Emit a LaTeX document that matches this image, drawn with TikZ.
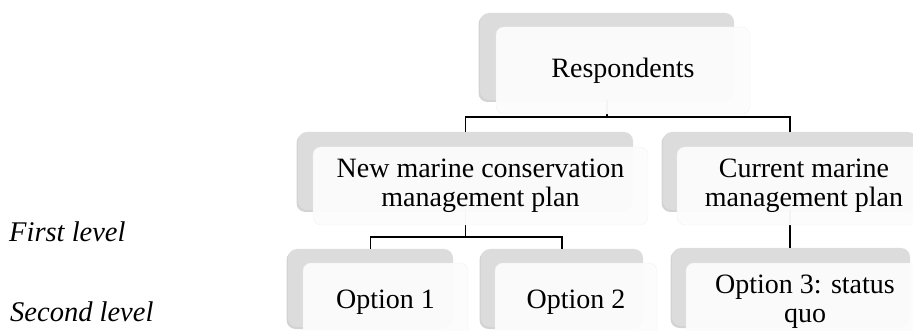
\documentclass[tikz,border=0pt]{standalone}
\usepackage{fontspec}
\setmainfont{Liberation Serif}
\usetikzlibrary{shadows}
\definecolor{backgrey}{HTML}{DCDCDC}
\definecolor{frontwhite}{HTML}{FCFCFC}
\tikzset{
  backbox/.style={rounded corners=9pt, fill=backgrey, inner sep=0pt,
    drop shadow={shadow xshift=-1.5pt, shadow yshift=-2pt, opacity=0.35}},
  frontbox/.style={rounded corners=8pt, fill=frontwhite, fill opacity=0.97,
    text opacity=1, draw=black!5, inner sep=0pt, align=center,
    font=\fontsize{28}{29}\selectfont},
  levellabel/.style={anchor=west, inner sep=0pt, font=\fontsize{28.5}{29}\selectfont\itshape},
  link/.style={line width=1.4pt}
}
\begin{document}
\begin{tikzpicture}[x=1pt, y=-1pt]
\useasboundingbox (0,0) rectangle (913,331);
\node[levellabel] (first) at (9,232){First level};
\node[levellabel] (second) at (10,312){Second level};
\coordinate (jtop) at (608,117);
\coordinate (jnew) at (465,237);
\node[backbox, minimum width=254pt, minimum height=87pt] (respb) at (607,56.5){};
\node[backbox, minimum width=335pt, minimum height=78pt] (newb) at (465.5,171){};
\node[backbox, minimum width=254pt, minimum height=78pt] (curb) at (790,171){};
\node[backbox, minimum width=165pt, minimum height=78pt] (opta) at (370.5,288){};
\node[backbox, minimum width=162pt, minimum height=78pt] (optb) at (562,288){};
\node[backbox, minimum width=238pt, minimum height=78pt] (optc) at (791,287){};
\draw[link](respb.south) -- (respb.south |- jtop) -| (newb.north);
\draw[link](respb.south |- jtop) -| (curb.north);
\draw[link](newb.south) -- (newb.south |- jnew) -| (opta.north);
\draw[link](newb.south |- jnew) -| (optb.north);
\draw[link](curb.south) -- (curb.south |- optc.north);
\node[frontbox, minimum width=254pt, minimum height=87pt] (respf) at (623,70.5){Respondents};
\node[frontbox, minimum width=335pt, minimum height=78pt] (newf) at (480.5,186){New marine conservation\\management plan};
\node[frontbox, minimum width=254pt, minimum height=78pt] (curf) at (804,186){Current marine\\management plan};
\node[frontbox, minimum width=165pt, minimum height=78pt] (optaf) at (385.5,302){Option 1};
\node[frontbox, minimum width=162pt, minimum height=78pt] (optbf) at (576,302){Option 2};
\node[frontbox, minimum width=238pt, minimum height=78pt] (optcf) at (805,302){Option 3: status\\quo};
\end{tikzpicture}
\end{document}
